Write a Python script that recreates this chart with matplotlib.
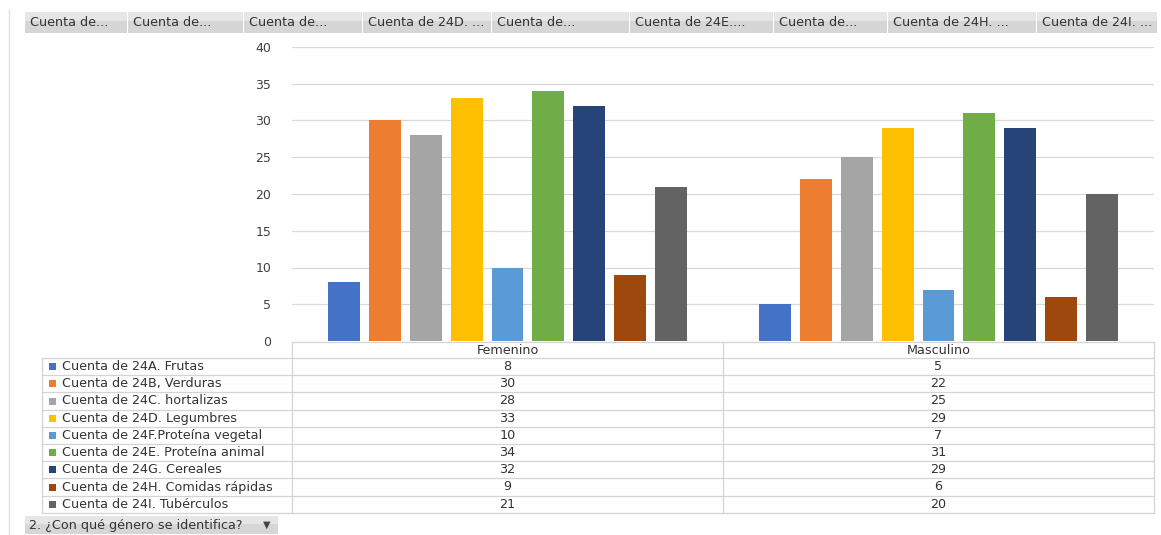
import numpy as np
import matplotlib.pyplot as plt
from matplotlib.patches import Rectangle

generos = ['Femenino', 'Masculino']
series = [
    'Cuenta de 24A. Frutas',
    'Cuenta de 24B, Verduras',
    'Cuenta de 24C. hortalizas',
    'Cuenta de 24D. Legumbres',
    'Cuenta de 24F.Proteína vegetal',
    'Cuenta de 24E. Proteína animal',
    'Cuenta de 24G. Cereales',
    'Cuenta de 24H. Comidas rápidas',
    'Cuenta de 24I. Tubérculos',
]
femenino = [8, 30, 28, 33, 10, 34, 32, 9, 21]
masculino = [5, 22, 25, 29, 7, 31, 29, 6, 20]
botones = ['Cuenta de...', 'Cuenta de...', 'Cuenta de...', 'Cuenta de 24D. ...',
           'Cuenta de...', 'Cuenta de 24E....', 'Cuenta de...', 'Cuenta de 24H. ...',
           'Cuenta de 24I. ...']
filtro = '2. ¿Con qué género se identifica?'

colores = ['#4472C4', '#ED7D31', '#A5A5A5', '#FFC000', '#5B9BD5',
           '#70AD47', '#264478', '#9E480E', '#636363']

plt.rcParams['font.family'] = ['DejaVu Sans']
fs = 9.2
tc = '#333333'

W, H = 1161, 535
fig = plt.figure(figsize=(W / 100, H / 100), dpi=100)

# overlay in pixel coordinates for the pivot decorations and table
ov = fig.add_axes([0, 0, 1, 1])
ov.set_xlim(0, W)
ov.set_ylim(H, 0)
ov.axis('off')

# chart area
x0, x1 = 292, 1154
y_top, y_zero = 47, 341
ax = fig.add_axes([x0 / W, 1 - y_zero / H, (x1 - x0) / W, (y_zero - y_top) / H])
ax.set_xlim(-0.5, 1.5)
ax.set_ylim(0, 40)
ax.set_yticks(np.arange(0, 41, 5))
ax.yaxis.grid(True, color='#d9d9d9', linewidth=0.9)
ax.set_axisbelow(True)
ax.set_xticks([])
for s in ax.spines.values():
    s.set_visible(False)
ax.tick_params(axis='y', length=0, pad=15, labelsize=9, labelcolor='#404040')

pitch = 0.0951
width = 0.0742
x = np.arange(len(generos))
for i, (f, m) in enumerate(zip(femenino, masculino)):
    off = (i - 4) * pitch
    ax.bar(x + off, [f, m], width=width, color=colores[i])


def boton(a, y, w, h):
    # grey button with a light top half, like the pivot field buttons
    ov.add_patch(Rectangle((a, y), w, h, facecolor='#d6d6d6', edgecolor='none'))
    ov.add_patch(Rectangle((a, y), w, h * 0.45, facecolor='#e6e6e6', edgecolor='none'))


# field buttons along the top
edges = [25, 128, 244, 363, 492, 630, 774, 888, 1037, 1158]
for lab, a, b in zip(botones, edges[:-1], edges[1:]):
    boton(a, 12, b - a - 1.5, 21)
    ov.text(a + 5, 23, lab, fontsize=fs, color=tc, va='center', ha='left')
ov.plot([9, 9], [10, 535], color='#e0e0e0', lw=1)

# data table under the chart
lc = '#d4d4d4'
row_h = 17.2
rows_top = 358
col = [292, 723, 1154]
ov.plot([col[0], col[2]], [342, 342], color=lc, lw=0.9)
for k in range(len(series) + 1):
    yy = rows_top + k * row_h
    ov.plot([42, col[2]], [yy, yy], color=lc, lw=0.9)
bottom = rows_top + len(series) * row_h
ov.plot([42, 42], [rows_top, bottom], color=lc, lw=0.9)
for c in col:
    ov.plot([c, c], [342, bottom], color=lc, lw=0.9)
for j, g in enumerate(generos):
    ov.text((col[j] + col[j + 1]) / 2, 350.5, g, fontsize=fs, color=tc,
            ha='center', va='center')
for k, (name, f, m) in enumerate(zip(series, femenino, masculino)):
    yc = rows_top + (k + 0.5) * row_h
    ov.add_patch(Rectangle((49, yc - 3.5), 7, 7, facecolor=colores[k], edgecolor='none'))
    ov.text(62, yc, name, fontsize=fs, color=tc, ha='left', va='center')
    ov.text((col[0] + col[1]) / 2, yc, str(f), fontsize=fs, color=tc,
            ha='center', va='center')
    ov.text((col[1] + col[2]) / 2, yc, str(m), fontsize=fs, color=tc,
            ha='center', va='center')

# report filter button
boton(25, 516, 253, 18)
ov.text(29, 525, filtro, fontsize=fs, color=tc, ha='left', va='center')
ov.text(267, 525, '▼', fontsize=7, color='#444444', ha='center', va='center')

fig.savefig('out.png', dpi=100)
